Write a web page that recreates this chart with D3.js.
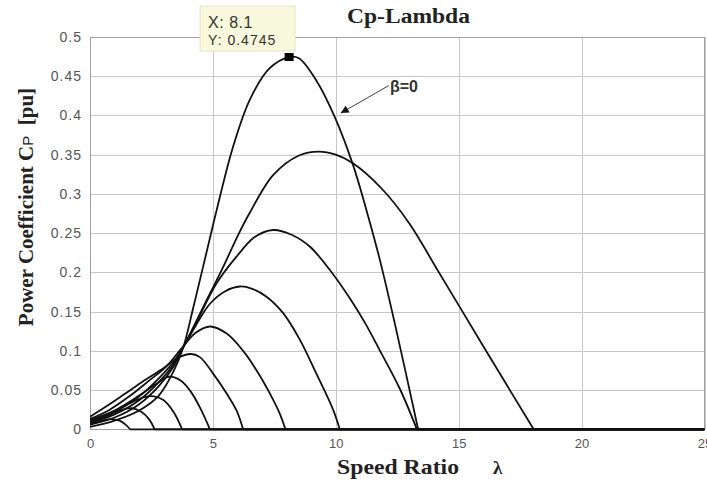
<!DOCTYPE html>
<html lang="en">
<head>
    <meta charset="UTF-8">
    <title>Cp-Lambda</title>
    <script src="https://d3js.org/d3.v7.min.js"></script>
    <style>
        body {
            margin: 0;
            background-color: #ffffff;
        }
        svg {
            display: block;
        }
        .grid line {
            stroke: #c8c8c8;
            stroke-width: 1;
            shape-rendering: crispEdges;
        }
        .tick-label text {
            font-family: "Liberation Sans", Arial, sans-serif;
            fill: #555555;
        }
        .cp-curve {
            fill: none;
            stroke: #111111;
            stroke-width: 1.8;
        }
    </style>
</head>
<body>
    <svg id="chart"></svg>

    <script>
        // axis ticks
        const lambdaTicks = [0, 5, 10, 15, 20, 25];
        const cpTicks = [0, 0.05, 0.1, 0.15, 0.2, 0.25, 0.3, 0.35, 0.4, 0.45, 0.5];

        // [lambda, Cp], one array per pitch angle (beta=0 is the tallest)
        const cpBeta0 = [[0, 0.003], [1, 0.011], [2, 0.024], [2.8, 0.043], [3.4, 0.074], [3.8, 0.105], [4.2, 0.155],
            [4.6, 0.207], [5.15, 0.279], [5.8, 0.358], [6.5, 0.42], [7.3, 0.46], [8.1, 0.4745], [8.5, 0.473],
            [9.2, 0.445], [9.96, 0.398], [10.7, 0.337], [11.25, 0.279], [11.8, 0.215], [12.4, 0.135], [13.35, 0]];
        const cpCurve1 = [[0, 0.006], [1, 0.015], [2, 0.032], [2.8, 0.055], [3.4, 0.08], [3.8, 0.105], [4.2, 0.13],
            [4.8, 0.168], [5.42, 0.207], [6.0, 0.246], [6.5, 0.276], [7.45, 0.324], [8.5, 0.349], [9.3, 0.354],
            [10.0, 0.35], [10.7, 0.339], [11.92, 0.305], [13.0, 0.262], [14.1, 0.205], [15.04, 0.156], [16.5, 0.08], [18.05, 0]];
        const cpCurve2 = [[0, 0.008], [1, 0.019], [2, 0.037], [2.8, 0.06], [3.4, 0.083], [3.8, 0.105], [4.2, 0.128],
            [5.15, 0.186], [5.96, 0.22], [6.7, 0.245], [7.45, 0.254], [8.2, 0.248], [8.94, 0.233], [9.76, 0.203],
            [10.57, 0.167], [11.2, 0.135], [11.8, 0.1], [12.6, 0.052], [13.3, 0]];
        const cpCurve3 = [[0, 0.01], [1, 0.022], [2, 0.042], [2.8, 0.065], [3.4, 0.086], [3.8, 0.105], [4.3, 0.132],
            [4.88, 0.16], [5.5, 0.176], [6.1, 0.182], [6.6, 0.179], [7.18, 0.169], [7.86, 0.148], [8.54, 0.114],
            [9.21, 0.071], [9.89, 0.025], [10.16, 0]];
        const cpCurve4 = [[0, 0.013], [0.8, 0.025], [1.6, 0.042], [2.4, 0.062], [3.1, 0.08], [3.8, 0.106], [4.3, 0.123],
            [4.88, 0.131], [5.56, 0.122], [6.23, 0.1], [6.78, 0.075], [7.32, 0.0455], [7.72, 0.02], [7.95, 0]];
        const cpCurve5 = [[0, 0.016], [0.7, 0.03], [1.5, 0.047], [2.3, 0.064], [3.0, 0.078], [3.5, 0.09], [4.1, 0.096],
            [4.47, 0.092], [5.01, 0.071], [5.56, 0.0455], [5.96, 0.024], [6.23, 0]];
        const cpCurve6 = [[0, 0.012], [1, 0.024], [2, 0.043], [2.7, 0.058], [3.2, 0.067], [3.7, 0.062], [4.1, 0.048],
            [4.47, 0.028], [4.88, 0]];
        const cpCurve7 = [[0, 0.01], [0.8, 0.02], [1.6, 0.033], [2.2, 0.041], [2.6, 0.042], [3.0, 0.037], [3.4, 0.022], [3.75, 0]];
        const cpCurve8 = [[0, 0.008], [0.6, 0.015], [1.2, 0.024], [1.7, 0.027], [2.1, 0.022], [2.4, 0.013], [2.63, 0]];
        const cpCurve9 = [[0, 0.006], [0.4, 0.01], [0.8, 0.013], [1.2, 0.011], [1.45, 0.006], [1.63, 0]];

        const curves = [cpBeta0, cpCurve1, cpCurve2, cpCurve3, cpCurve4, cpCurve5, cpCurve6, cpCurve7, cpCurve8, cpCurve9];

        // data tip on the beta=0 maximum
        const peakLambda = 8.1;
        const peakCp = 0.4745;

        const width = 707;
        const height = 481;
        const margin = { top: 37, right: 2.5, bottom: 51.7, left: 90 };
        const plotW = width - margin.left - margin.right;
        const plotH = height - margin.top - margin.bottom;

        const svg = d3.select("#chart")
            .attr("width", width)
            .attr("height", height);

        const x = d3.scaleLinear().domain([0, 25]).range([margin.left, margin.left + plotW]);
        const y = d3.scaleLinear().domain([0, 0.5]).range([margin.top + plotH, margin.top]);

        // grid
        svg.append("g")
            .attr("class", "grid")
            .attr("transform", `translate(0,${margin.top + plotH})`)
            .call(d3.axisBottom(x).tickValues(lambdaTicks).tickSize(-plotH).tickFormat(""))
            .call(g => g.select(".domain").remove());

        svg.append("g")
            .attr("class", "grid")
            .attr("transform", `translate(${margin.left},0)`)
            .call(d3.axisLeft(y).tickValues(cpTicks).tickSize(-plotW).tickFormat(""))
            .call(g => g.select(".domain").remove());

        // frame
        svg.append("rect")
            .attr("x", margin.left)
            .attr("y", margin.top)
            .attr("width", plotW)
            .attr("height", plotH)
            .attr("fill", "none")
            .attr("stroke", "#a0a0a0")
            .attr("shape-rendering", "crispEdges");

        // tick labels
        svg.append("g")
            .attr("class", "tick-label")
            .attr("transform", `translate(0,${margin.top + plotH})`)
            .call(d3.axisBottom(x).tickValues(lambdaTicks).tickSize(0).tickPadding(9.5).tickFormat(d3.format("d")))
            .call(g => g.select(".domain").remove())
            .selectAll("text")
            .style("font-size", "13px");

        svg.append("g")
            .attr("class", "tick-label")
            .attr("transform", `translate(${margin.left},0)`)
            .call(d3.axisLeft(y).tickValues(cpTicks).tickSize(0).tickPadding(8).tickFormat(d3.format("~g")))
            .call(g => g.select(".domain").remove())
            .selectAll("text")
            .style("font-size", "14px")
            .style("letter-spacing", "1px");

        // curves
        svg.append("clipPath")
            .attr("id", "plot-clip")
            .append("rect")
            .attr("x", margin.left)
            .attr("y", margin.top - 2)
            .attr("width", plotW)
            .attr("height", plotH + 4);

        const line = d3.line()
            .x(d => x(d[0]))
            .y(d => y(d[1]))
            .curve(d3.curveCatmullRom.alpha(0.5));

        const straight = d3.line()
            .x(d => x(d[0]))
            .y(d => y(d[1]));

        const curveGroup = svg.append("g").attr("clip-path", "url(#plot-clip)");

        curveGroup.selectAll("path.cp-curve")
            .data(curves)
            .enter().append("path")
            .attr("class", "cp-curve")
            .attr("d", line);

        // Cp is held at zero past each curve's end
        curveGroup.selectAll("path.cp-tail")
            .data(curves)
            .enter().append("path")
            .attr("class", "cp-curve cp-tail")
            .attr("d", d => straight([[d[d.length - 1][0], 0], [x.domain()[1], 0]]));

        // marker + data tip
        const px = x(peakLambda);
        const py = y(peakCp);

        svg.append("rect")
            .attr("x", px - 4.5)
            .attr("y", py - 4)
            .attr("width", 9)
            .attr("height", 8)
            .attr("fill", "#000000");

        svg.append("rect")
            .attr("x", px - 89)
            .attr("y", py - 51)
            .attr("width", 95)
            .attr("height", 45)
            .attr("fill", "#f8f8dc")
            .attr("stroke", "#e4e4cc");

        svg.append("text")
            .attr("x", px - 81)
            .attr("y", py - 29)
            .style("font-family", "Liberation Sans, Arial, sans-serif")
            .style("font-size", "16px")
            .style("letter-spacing", "0.5px")
            .style("fill", "#333333")
            .text(`X: ${peakLambda}`);

        svg.append("text")
            .attr("x", px - 81)
            .attr("y", py - 12)
            .style("font-family", "Liberation Sans, Arial, sans-serif")
            .style("font-size", "14px")
            .style("letter-spacing", "1px")
            .style("fill", "#333333")
            .text(`Y: ${peakCp}`);

        // beta = 0 annotation
        svg.append("defs").append("marker")
            .attr("id", "arrow")
            .attr("viewBox", "0 0 10 10")
            .attr("refX", 10)
            .attr("refY", 5)
            .attr("markerWidth", 12)
            .attr("markerHeight", 8)
            .attr("markerUnits", "userSpaceOnUse")
            .attr("orient", "auto")
            .append("path")
            .attr("d", "M0,0L10,5L0,10z")
            .attr("fill", "#111111");

        svg.append("line")
            .attr("x1", x(12.15))
            .attr("y1", y(0.438))
            .attr("x2", x(10.2))
            .attr("y2", y(0.403))
            .attr("stroke", "#444444")
            .attr("stroke-width", 1)
            .attr("marker-end", "url(#arrow)");

        svg.append("text")
            .attr("x", x(12.2))
            .attr("y", y(0.43))
            .style("font-family", "Liberation Sans, Arial, sans-serif")
            .style("font-size", "16px")
            .style("font-weight", "bold")
            .style("fill", "#333333")
            .text("β=0");

        // titles
        svg.append("text")
            .attr("x", 408.5)
            .attr("y", 23)
            .attr("text-anchor", "middle")
            .attr("textLength", 123)
            .attr("lengthAdjust", "spacingAndGlyphs")
            .style("font-family", "Liberation Serif, Times New Roman, serif")
            .style("font-weight", "bold")
            .style("font-size", "20px")
            .style("fill", "#222222")
            .text("Cp-Lambda");

        svg.append("text")
            .attr("x", 337)
            .attr("y", 474)
            .attr("textLength", 122)
            .attr("lengthAdjust", "spacingAndGlyphs")
            .style("font-family", "Liberation Serif, Times New Roman, serif")
            .style("font-weight", "bold")
            .style("font-size", "22px")
            .style("fill", "#222222")
            .text("Speed Ratio");

        svg.append("text")
            .attr("x", 493)
            .attr("y", 474)
            .style("font-family", "Liberation Serif, Times New Roman, serif")
            .style("font-weight", "bold")
            .style("font-size", "19px")
            .style("fill", "#222222")
            .text("λ");

        const yLabel = svg.append("text")
            .attr("transform", "translate(33,207) rotate(-90)")
            .attr("text-anchor", "middle")
            .style("font-family", "Liberation Serif, Times New Roman, serif")
            .style("font-weight", "bold")
            .style("font-size", "21px")
            .style("fill", "#222222");
        yLabel.append("tspan").text("Power Coefficient C");
        yLabel.append("tspan")
            .style("font-family", "Liberation Sans, Arial, sans-serif")
            .style("font-weight", "normal")
            .style("font-size", "15px")
            .text("P");
        yLabel.append("tspan").text("\u00a0\u00a0[pu]");
    </script>
</body>
</html>
